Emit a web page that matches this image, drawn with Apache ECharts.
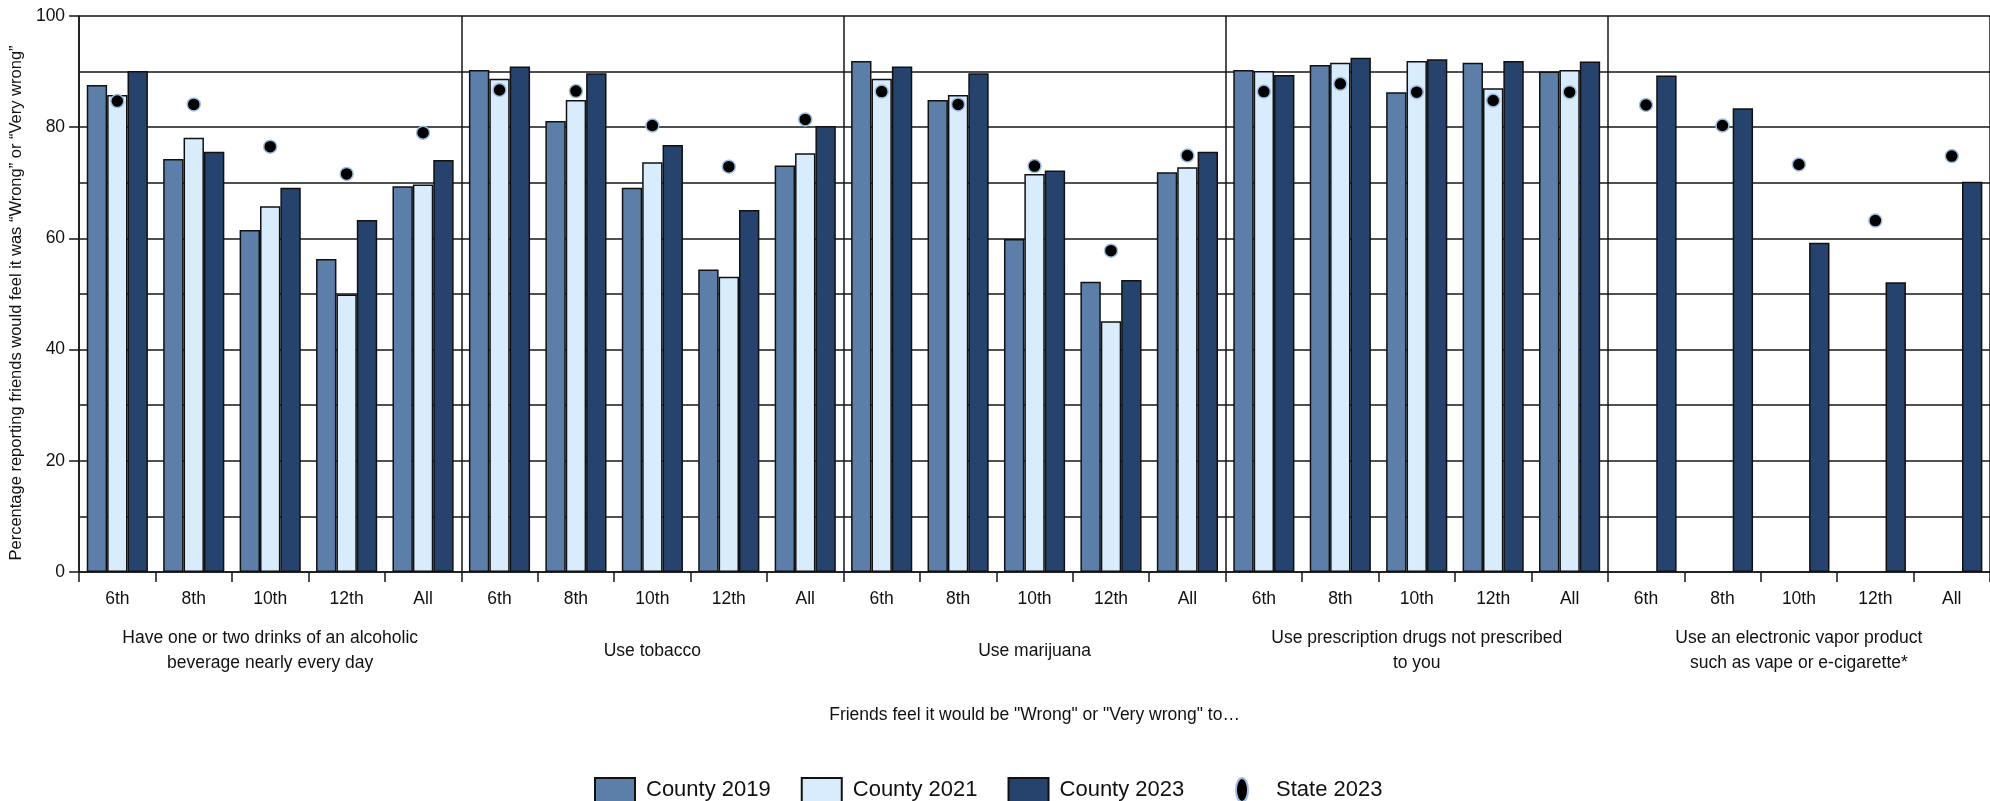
<!DOCTYPE html>
<html>
<head>
<meta charset="utf-8">
<script src="https://cdn.jsdelivr.net/npm/echarts@6/dist/echarts.min.js"></script>
<style>
html,body{margin:0;padding:0;background:#fff;}
#chart{width:1990px;height:801px;}
</style>
</head>
<body>
<div id="chart"></div>
<script>
// ---- data ----
const groups = [
  "Have one or two drinks of an alcoholic\nbeverage nearly every day",
  "Use tobacco",
  "Use marijuana",
  "Use prescription drugs not prescribed\nto you",
  "Use an electronic vapor product\nsuch as vape or e-cigarette*"
];
const grades = ["6th", "8th", "10th", "12th", "All"];
const yTicks = [0, 20, 40, 60, 80, 100];

const county2019 = [87.6, 74.3, 61.5, 56.3, 69.4,  90.3, 81.1, 69.1, 54.4, 73.1,  91.9, 84.9, 59.9, 52.2, 71.9,  90.3, 91.2, 86.3, 91.6, 90.0,  null, null, null, null, null];
const county2021 = [85.8, 78.1, 65.8, 49.9, 69.7,  88.7, 84.9, 73.7, 53.1, 75.3,  88.7, 85.8, 71.6, 45.1, 72.8,  90.1, 91.6, 91.9, 87.0, 90.3,  null, null, null, null, null];
const county2023 = [90.1, 75.6, 69.1, 63.3, 74.1,  90.9, 89.7, 76.8, 65.1, 80.2,  90.9, 89.7, 72.2, 52.5, 75.6,  89.4, 92.5, 92.2, 91.9, 91.8,  89.3, 83.4, 59.2, 52.1, 70.2];
const state2023  = [84.7, 84.1, 76.5, 71.6, 79.0,  86.7, 86.5, 80.3, 72.9, 81.4,  86.4, 84.1, 73.0, 57.8, 74.9,  86.4, 87.8, 86.3, 84.8, 86.3,  84.0, 80.3, 73.3, 63.2, 74.8];

// category ids built from groups x grades
const categories = [];
groups.forEach((g, gi) => grades.forEach(gr => categories.push(gi + '|' + gr)));

const COND = "'Liberation Sans', Arial, sans-serif";
const REG = "'Liberation Sans', 'Noto Sans', sans-serif";
const LINE = '#161616';
const C19 = '#5b7fa8', C21 = '#d9ecfd', C23 = '#25436d';

const chart = echarts.init(document.getElementById('chart'), null, {renderer: 'canvas'});

const barStyle = c => ({color: c, borderColor: '#111', borderWidth: 1.5});

chart.setOption({
  animation: false,
  backgroundColor: '#fff',
  grid: {left: 72, right: 0, top: 16, bottom: 229, containLabel: false},
  legend: [
    {
      data: ['County 2019', 'County 2021', 'County 2023'],
      left: 589, top: 772,
      itemWidth: 40, itemHeight: 24, itemGap: 30,
      icon: 'rect',
      textStyle: {fontFamily: COND, fontSize: 22, color: '#111', padding: [0, 0, 0, 6]},
      selectedMode: false
    },
    {
      data: [{name: 'State 2023', icon: 'path://M5,0 A5,10 0 1,1 5,20 A5,10 0 1,1 5,0 Z'}],
      left: 1230, top: 772,
      itemWidth: 14, itemHeight: 24,
      textStyle: {fontFamily: COND, fontSize: 22, color: '#111', padding: [0, 0, 0, 22]},
      selectedMode: false
    }
  ],
  xAxis: [
    {
      type: 'category',
      data: categories,
      position: 'bottom',
      axisLine: {show: true, lineStyle: {color: LINE, width: 1.5}},
      axisTick: {show: true, interval: 0, length: 10, lineStyle: {color: LINE, width: 1.5}},
      axisLabel: {
        interval: 0, margin: 18,
        formatter: v => v.split('|')[1],
        fontFamily: COND, fontSize: 17.5, color: '#111'
      },
      splitLine: {show: false},
      name: 'Friends feel it would be "Wrong" or "Very wrong" to…',
      nameLocation: 'middle',
      nameGap: 143,
      nameTextStyle: {fontFamily: COND, fontSize: 17.5, color: '#111', verticalAlign: 'middle'}
    },
    {
      type: 'category',
      data: groups,
      position: 'bottom',
      axisLine: {show: false},
      axisTick: {show: false},
      axisLabel: {
        interval: 0, margin: 79,
        verticalAlign: 'middle',
        lineHeight: 25,
        fontFamily: COND, fontSize: 17.5, color: '#111'
      },
      splitLine: {show: true, interval: 0, lineStyle: {color: LINE, width: 1.5}}
    }
  ],
  yAxis: {
    type: 'value',
    min: 0, max: 100, interval: 20,
    axisLine: {show: true, lineStyle: {color: LINE, width: 1.5}},
    axisTick: {show: true, length: 10, lineStyle: {color: LINE, width: 1.5}},
    axisLabel: {
      margin: 14, fontFamily: REG, fontSize: 17.5, color: '#111',
      formatter: v => (yTicks.indexOf(v) >= 0 ? String(v) : '')
    },
    splitLine: {show: true, lineStyle: {color: LINE, width: 1.6}},
    minorTick: {show: false, splitNumber: 2},
    minorSplitLine: {show: true, lineStyle: {color: LINE, width: 1.6}},
    name: 'Percentage reporting friends would feel it was “Wrong” or “Very wrong”',
    nameLocation: 'middle',
    nameRotate: 90,
    nameGap: 54,
    nameTextStyle: {fontFamily: REG, fontSize: 16.5, color: '#111', padding: [0, 18, 0, 0]}
  },
  series: [
    {name: 'County 2019', type: 'bar', data: county2019, itemStyle: barStyle(C19), barGap: '0%', barCategoryGap: '20%'},
    {name: 'County 2021', type: 'bar', data: county2021, itemStyle: barStyle(C21), barGap: '0%', barCategoryGap: '20%'},
    {name: 'County 2023', type: 'bar', data: county2023, itemStyle: barStyle(C23), barGap: '0%', barCategoryGap: '20%'},
    {
      name: 'State 2023', type: 'scatter', data: state2023,
      symbol: 'circle', symbolSize: 13, z: 5,
      itemStyle: {color: '#000', borderColor: '#9dbde3', borderWidth: 1.5, opacity: 1}
    }
  ]
});
</script>
</body>
</html>
